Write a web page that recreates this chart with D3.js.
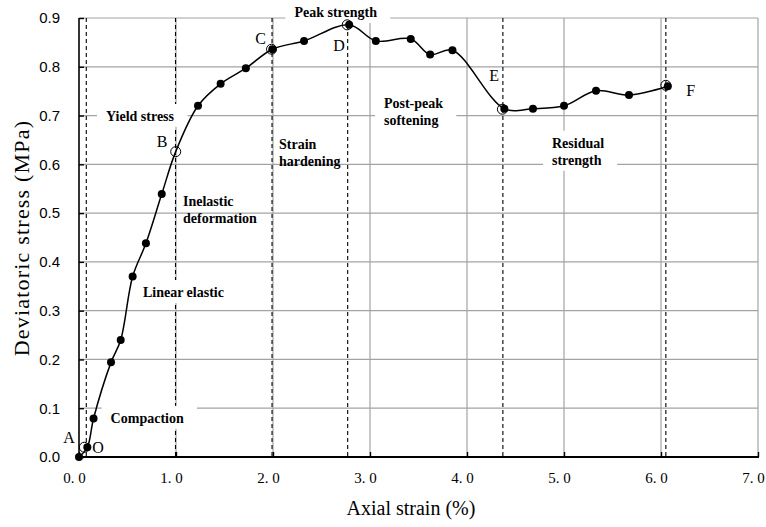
<!DOCTYPE html>
<html><head><meta charset="utf-8">
<style>
body { margin: 0; background: #fff; }
svg text { fill: #000; }
</style>
</head><body><svg width="766" height="527"></svg>
<script src="https://cdn.jsdelivr.net/npm/d3@7/dist/d3.min.js"></script>
<script>

// measured curve (axial strain %, deviatoric stress MPa)
var strain = [0, 0.086, 0.15, 0.33, 0.43, 0.553, 0.69, 0.853, 0.997, 1.227, 1.46, 1.72, 1.993, 2.32, 2.785, 3.06, 3.42, 3.62, 3.85, 4.385, 4.68, 5.0, 5.33, 5.67, 6.07];
var stress = [0, 0.02, 0.079, 0.194, 0.24, 0.37, 0.438, 0.539, 0.626, 0.72, 0.765, 0.797, 0.836, 0.853, 0.886, 0.853, 0.857, 0.825, 0.834, 0.714, 0.714, 0.72, 0.751, 0.742, 0.76];
var hollowOnly = [8]; // B is only marked by the open circle

// characteristic points A..F (open circles)
var keyNames = ["A", "B", "C", "D", "E", "F"];
var keyStrain = [0.055, 0.997, 1.985, 2.765, 4.365, 6.05];
var keyStress = [0.02, 0.626, 0.836, 0.886, 0.713, 0.762];

// dashed stage boundaries
var stageStrain = [0.075, 0.995, 1.99, 2.77, 4.37, 6.05];

var xTicks = [0, 1, 2, 3, 4, 5, 6, 7];
var yTicks = [0, 0.1, 0.2, 0.3, 0.4, 0.5, 0.6, 0.7, 0.8, 0.9];

// letters next to the points: text, strain, stress
var letters = [
  ["A", -0.103, 0.041], ["O", 0.196, 0.0205], ["B", 0.856, 0.648], ["C", 1.873, 0.859],
  ["D", 2.68, 0.843], ["E", 4.28, 0.783], ["F", 6.306, 0.752]
];

// stage notes: lines, left strain, first baseline stress, white box?
var notes = [
  [["Peak strength"], 2.221, 0.902, true],
  [["Yield stress"], 0.278, 0.689, true],
  [["Inelastic", "deformation"], 1.072, 0.514, false],
  [["Linear elastic"], 0.659, 0.328, true],
  [["Compaction"], 0.326, 0.070, true],
  [["Strain", "hardening"], 2.062, 0.631, false],
  [["Post-peak", "softening"], 3.144, 0.716, true],
  [["Residual", "strength"], 4.876, 0.634, true]
];

var svg = d3.select("svg"),
    padL = 79, padR = 758, padT = 18, padB = 457;

var x = d3.scaleLinear().domain([0, 7]).range([padL, padR]);
var y = d3.scaleLinear().domain([0, 0.9]).range([padB, padT]);

// grid
svg.append("g").selectAll("line").data(yTicks.slice(1)).join("line")
    .attr("x1", padL).attr("x2", padR)
    .attr("y1", d => y(d)).attr("y2", d => y(d))
    .attr("stroke", "#a3a3a3").attr("stroke-width", 1.2);
svg.append("g").selectAll("line").data(xTicks.slice(1)).join("line")
    .attr("x1", d => x(d)).attr("x2", d => x(d))
    .attr("y1", padT).attr("y2", padB)
    .attr("stroke", "#a3a3a3").attr("stroke-width", 1.2);

// stage lines
svg.append("g").selectAll("line").data(stageStrain).join("line")
    .attr("x1", d => x(d)).attr("x2", d => x(d))
    .attr("y1", padT).attr("y2", padB)
    .attr("stroke", "#000").attr("stroke-width", 1.1)
    .attr("stroke-dasharray", "4,3");

// notes with white boxes
var noteG = svg.append("g")
    .attr("font-family", "'Liberation Serif', 'Times New Roman', serif")
    .attr("font-weight", "bold").attr("font-size", 14);
notes.forEach(function(n) {
  var g = noteG.append("g");
  var t = g.append("text").attr("x", x(n[1])).attr("y", y(n[2]));
  n[0].forEach(function(s, i) {
    t.append("tspan").attr("x", x(n[1])).attr("dy", i ? 17 : 0).text(s);
  });
  if (n[3]) {
    var b = t.node().getBBox();
    g.insert("rect", "text")
        .attr("x", b.x - 9).attr("y", b.y - 5)
        .attr("width", b.width + 22).attr("height", b.height + 8)
        .attr("fill", "#fff");
  }
});

// axes
var yAxis = d3.axisLeft(y).tickValues(yTicks).tickSize(-5).tickFormat(d3.format(".1f"));
var gy = svg.append("g").attr("transform", "translate(" + padL + ",0)").call(yAxis);
gy.selectAll(".tick line").attr("stroke-width", 1.4);
gy.selectAll(".tick text").attr("x", -19)
    .attr("font-family", "'Liberation Sans', Arial, sans-serif").attr("font-size", 15);

var xAxis = d3.axisBottom(x).tickValues(xTicks).tickSize(-5).tickFormat(d => d.toFixed(1).replace(".", ". "));
var gx = svg.append("g").attr("transform", "translate(0," + padB + ")").call(xAxis);
gx.selectAll(".tick line").attr("stroke-width", 1.4);
gx.selectAll(".tick text").attr("y", 15).attr("x", -5)
    .attr("font-family", "'Liberation Serif', 'Times New Roman', serif").attr("font-size", 15);
svg.selectAll(".domain").remove();
svg.append("line").attr("x1", padL).attr("x2", padL).attr("y1", padT).attr("y2", padB)
    .attr("stroke", "#000").attr("stroke-width", 1.6);
svg.append("line").attr("x1", padL).attr("x2", padR + 1).attr("y1", padB).attr("y2", padB)
    .attr("stroke", "#000").attr("stroke-width", 2);

// curve
var pts = strain.map((s, i) => [s, stress[i], i]);
var line = d3.line().x(d => x(d[0])).y(d => y(d[1])).curve(d3.curveCatmullRom.alpha(0.5));
svg.append("path").datum(pts).attr("d", line)
    .attr("fill", "none").attr("stroke", "#000").attr("stroke-width", 1.5);

svg.append("g").selectAll("circle").data(pts.filter(d => hollowOnly.indexOf(d[2]) < 0)).join("circle")
    .attr("cx", d => x(d[0])).attr("cy", d => y(d[1])).attr("r", 4).attr("fill", "#000");

svg.append("g").selectAll("circle").data(keyNames).join("circle")
    .attr("cx", (d, i) => x(keyStrain[i])).attr("cy", (d, i) => y(keyStress[i])).attr("r", 5)
    .attr("fill", "none").attr("stroke", "#000").attr("stroke-width", 1);

svg.append("g").selectAll("text").data(letters).join("text")
    .attr("x", d => x(d[1])).attr("y", d => y(d[2]))
    .attr("text-anchor", "middle").attr("dy", "0.35em")
    .attr("font-family", "'Liberation Serif', 'Times New Roman', serif").attr("font-size", 16)
    .text(d => d[0]);

// titles
svg.append("text").attr("x", 411).attr("y", 515).attr("text-anchor", "middle")
    .attr("font-family", "'Liberation Serif', 'Times New Roman', serif").attr("font-size", 20)
    .text("Axial strain (%)");
svg.append("text").attr("transform", "translate(29,238) rotate(-90)").attr("text-anchor", "middle")
    .attr("font-family", "'Liberation Serif', 'Times New Roman', serif").attr("font-size", 22)
    .attr("letter-spacing", 1.2)
    .text("Deviatoric stress (MPa)");

</script>
</body></html>
